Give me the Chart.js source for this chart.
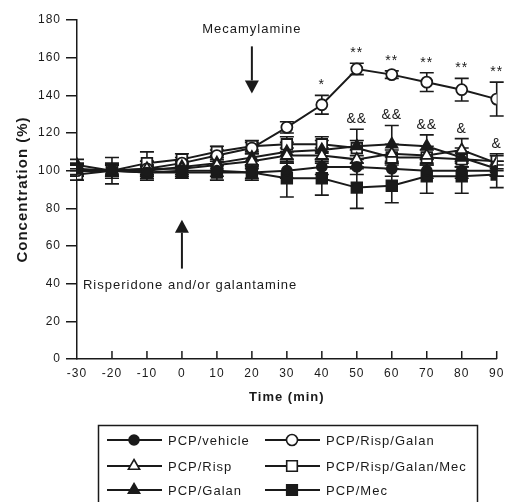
<!DOCTYPE html>
<html>
<head>
<meta charset="utf-8">
<script src="https://cdn.jsdelivr.net/npm/chart.js@4/dist/chart.umd.min.js"></script>
<style>
  html, body { margin: 0; padding: 0; background: #fff; }
</style>
</head>
<body>
<canvas id="chart" width="506" height="502"></canvas>
<script>
// Sample times (min)
const times = [-30, -20, -10, 0, 10, 20, 30, 40, 50, 60, 70, 80, 90];

// Mean concentration (% of baseline) per group
const pcpVehicle     = [101, 100, 99, 100, 100, 99, 100, 102, 102, 101, 100, 100, 100];
const pcpRisp        = [100, 100, 101, 101, 103, 105, 108, 108, 106, 109, 108, 111, 104];
const pcpGalan       = [103, 100, 100, 102, 104, 107, 110, 111, 113, 114, 113, 107, 101];
const pcpRispGalan   = [100, 100, 101, 104, 108, 112, 123, 135, 154, 151, 147, 143, 138];
const pcpRispGalMec  = [98, 100, 104, 106, 110, 113, 114, 114, 112, 107, 107, 106, 105];
const pcpMec         = [100, 100, 99, 99, 99, 99, 96, 96, 91, 92, 97, 97, 98];

// SEM per group
const errVehicle    = [3, 3, 3, 3, 3, 3, 4, 4, 4, 4, 4, 4, 3];
const errRisp       = [3, 3, 4, 3, 3, 4, 4, 4, 5, 5, 5, 6, 4];
const errGalan      = [3, 3, 3, 3, 4, 4, 5, 5, 9, 10, 6, 5, 4];
const errRispGalan  = [3, 3, 4, 3, 3, 3, 3, 5, 3, 2, 5, 6, 9];
const errRispGalMec = [3, 4, 6, 3, 3, 3, 4, 4, 4, 4, 4, 4, 4];
const errMec        = [3, 7, 4, 3, 4, 4, 10, 9, 11, 9, 9, 9, 7];

// significance marks
const starMarks = ['', '', '', '', '', '', '', '*', '**', '**', '**', '**', '**'];
const ampMarks  = ['', '', '', '', '', '', '', '', '&&', '&&', '&&', '&', '&'];

const groupNames = ['PCP/vehicle', 'PCP/Risp', 'PCP/Galan', 'PCP/Risp/Galan', 'PCP/Risp/Galan/Mec', 'PCP/Mec'];

const FONT = "'Liberation Sans', Arial, Helvetica, sans-serif";
const INK = '#1a1a1a';

Chart.defaults.font.family = FONT;
Chart.defaults.color = INK;

function series(label, values, errors, style, filled, radius) {
  return {
    label: label,
    data: times.map((t, i) => ({ x: t, y: values[i] })),
    errors: errors,
    borderColor: INK,
    borderWidth: 2,
    pointStyle: style,
    pointRadius: radius,
    pointHoverRadius: radius,
    pointBackgroundColor: filled ? INK : '#fff',
    pointBorderColor: INK,
    pointBorderWidth: 1.8,
    filled: filled,
    tension: 0,
    fill: false
  };
}

const datasets = [
  series(groupNames[0], pcpVehicle, errVehicle, 'circle', true, 5),
  series(groupNames[1], pcpRisp, errRisp, 'triangle', false, 6.5),
  series(groupNames[2], pcpGalan, errGalan, 'triangle', true, 6.5),
  series(groupNames[3], pcpRispGalan, errRispGalan, 'circle', false, 5.5),
  series(groupNames[4], pcpRispGalMec, errRispGalMec, 'rect', false, 7.5),
  series(groupNames[5], pcpMec, errMec, 'rect', true, 7.5)
];

function drawMarker(ctx, style, filled, x, y, r) {
  ctx.save();
  ctx.fillStyle = filled ? INK : '#fff';
  ctx.strokeStyle = INK;
  ctx.lineWidth = 1.6;
  ctx.beginPath();
  if (style === 'circle') {
    ctx.arc(x, y, r, 0, Math.PI * 2);
  } else if (style === 'triangle') {
    ctx.moveTo(x, y - r);
    ctx.lineTo(x + 0.866 * r, y + 0.5 * r);
    ctx.lineTo(x - 0.866 * r, y + 0.5 * r);
    ctx.closePath();
  } else {
    const s = r * Math.SQRT1_2;
    ctx.rect(x - s, y - s, 2 * s, 2 * s);
  }
  ctx.fill();
  ctx.stroke();
  ctx.restore();
}

function drawArrow(ctx, x, yFrom, yTo) {
  const dir = yTo > yFrom ? 1 : -1;
  const head = 13;
  ctx.save();
  ctx.strokeStyle = INK;
  ctx.fillStyle = INK;
  ctx.lineWidth = 2;
  ctx.beginPath();
  ctx.moveTo(x, yFrom);
  ctx.lineTo(x, yTo - dir * head);
  ctx.stroke();
  ctx.beginPath();
  ctx.moveTo(x, yTo);
  ctx.lineTo(x - 7, yTo - dir * head);
  ctx.lineTo(x + 7, yTo - dir * head);
  ctx.closePath();
  ctx.fill();
  ctx.restore();
}

const extras = {
  id: 'extras',
  beforeDraw(chart) {
    chart.ctx.letterSpacing = '1px';
  },
  beforeDatasetsDraw(chart) {
    const ctx = chart.ctx;
    const xs = chart.scales.x, ys = chart.scales.y;
    ctx.save();
    ctx.strokeStyle = INK;
    ctx.lineWidth = 1.6;
    chart.data.datasets.forEach(ds => {
      ds.data.forEach((p, i) => {
        const e = ds.errors[i];
        const x = xs.getPixelForValue(p.x);
        const y1 = ys.getPixelForValue(p.y + e);
        const y2 = ys.getPixelForValue(p.y - e);
        ctx.beginPath();
        ctx.moveTo(x, y1); ctx.lineTo(x, y2);
        ctx.moveTo(x - 7, y1); ctx.lineTo(x + 7, y1);
        ctx.moveTo(x - 7, y2); ctx.lineTo(x + 7, y2);
        ctx.stroke();
      });
    });
    ctx.restore();
  },
  afterDatasetsDraw(chart) {
    const ctx = chart.ctx;
    const xs = chart.scales.x, ys = chart.scales.y;
    ctx.save();
    ctx.letterSpacing = '1px';

    // inward tick marks on the time axis
    ctx.strokeStyle = INK;
    ctx.lineWidth = 1.5;
    const yb = ys.getPixelForValue(0);
    times.forEach(t => {
      if (t === times[0]) return;
      const x = xs.getPixelForValue(t);
      ctx.beginPath();
      ctx.moveTo(x, yb);
      ctx.lineTo(x, yb - 8);
      ctx.stroke();
    });

    // significance marks
    ctx.fillStyle = INK;
    ctx.textAlign = 'center';
    ctx.textBaseline = 'bottom';
    ctx.font = '14px ' + FONT;
    times.forEach((t, i) => {
      const x = xs.getPixelForValue(t);
      if (starMarks[i]) {
        const top = ys.getPixelForValue(pcpRispGalan[i] + errRispGalan[i]);
        ctx.fillText(starMarks[i], x, top - 3);
      }
      if (ampMarks[i]) {
        const tops = [0, 1, 2, 4, 5].map(k => {
          const ds = chart.data.datasets[k];
          return ds.data[i].y + ds.errors[i];
        });
        const top = ys.getPixelForValue(Math.max(...tops));
        ctx.fillText(ampMarks[i], x, top - 3);
      }
    });

    // treatment annotations
    ctx.font = '13px ' + FONT;
    ctx.textBaseline = 'middle';
    ctx.textAlign = 'center';
    ctx.fillText('Mecamylamine', xs.getPixelForValue(20), ys.getPixelForValue(175));
    drawArrow(ctx, xs.getPixelForValue(20), ys.getPixelForValue(166), ys.getPixelForValue(141));
    ctx.textAlign = 'left';
    ctx.fillText('Risperidone and/or galantamine', xs.getPixelForValue(-28.3), ys.getPixelForValue(39));
    drawArrow(ctx, xs.getPixelForValue(0), ys.getPixelForValue(48), ys.getPixelForValue(74));

    // legend box
    const bx = 98, by = 425, bw = 379;
    ctx.lineWidth = 1.5;
    ctx.strokeRect(bx + 0.5, by + 0.5, bw, 120);
    const colX = [107, 265];
    const rowY = [440, 466, 490];
    ctx.font = '13px ' + FONT;
    ctx.textAlign = 'left';
    ctx.textBaseline = 'middle';
    chart.data.datasets.forEach((ds, k) => {
      const x0 = colX[Math.floor(k / 3)];
      const y0 = rowY[k % 3];
      ctx.lineWidth = 1.8;
      ctx.beginPath();
      ctx.moveTo(x0, y0);
      ctx.lineTo(x0 + 55, y0);
      ctx.stroke();
      drawMarker(ctx, ds.pointStyle, ds.filled, x0 + 27, y0, ds.pointRadius);
      ctx.fillStyle = INK;
      ctx.fillText(ds.label, x0 + 61, y0 + 1);
    });
    ctx.restore();
  }
};

new Chart(document.getElementById('chart').getContext('2d'), {
  type: 'line',
  data: { datasets: datasets },
  options: {
    responsive: false,
    devicePixelRatio: 1,
    animation: false,
    layout: { padding: { left: 14, top: 20, right: 9, bottom: 97 } },
    plugins: {
      legend: { display: false },
      tooltip: { enabled: false }
    },
    scales: {
      x: {
        type: 'linear',
        min: -30,
        max: 90,
        afterFit: s => { s.height = 46; s.paddingLeft = 0; s.paddingRight = 0; },
        ticks: { stepSize: 10, padding: 7, color: INK, font: { size: 12 } },
        grid: { drawOnChartArea: false, drawTicks: false },
        border: { color: INK, width: 1.5 },
        title: { display: true, text: 'Time (min)', color: INK, font: { size: 13, weight: 'bold' }, padding: { top: 7, bottom: 0 } }
      },
      y: {
        min: 0,
        max: 180,
        afterFit: s => { s.width = 63; s.paddingTop = 0; s.paddingBottom = 0; },
        ticks: { stepSize: 20, padding: 5, color: INK, font: { size: 12 } },
        grid: { drawOnChartArea: false, drawTicks: true, tickLength: 11, color: INK, lineWidth: 1.5 },
        border: { color: INK, width: 1.5 },
        title: { display: true, text: 'Concentration (%)', color: INK, font: { size: 15, weight: 'bold' }, padding: { top: 0, bottom: 4 } }
      }
    }
  },
  plugins: [extras]
});
</script>
</body>
</html>
